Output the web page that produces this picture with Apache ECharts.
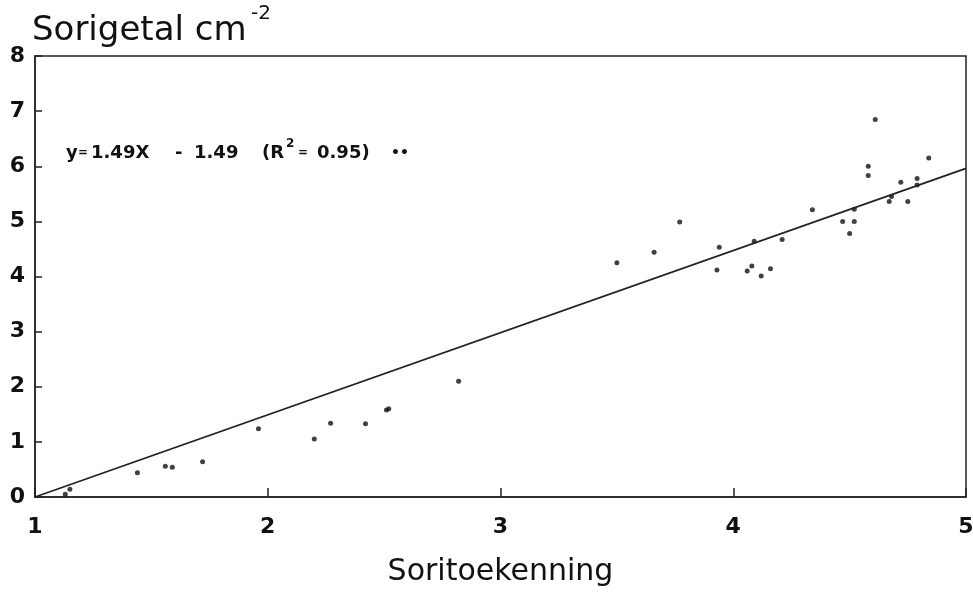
<!DOCTYPE html>
<html>
<head>
<meta charset="utf-8">
<script src="https://cdn.jsdelivr.net/npm/echarts@6/dist/echarts.min.js"></script>
<style>
  html, body { margin: 0; padding: 0; background: #fff; }
  #echarts_main { width: 973px; height: 593px; }
</style>
</head>
<body>
<div id="echarts_main"></div>
<script>
// soritoekenning (x) vs sorigetal per cm2 (y)
var scoreX = [1.13, 1.15, 1.44, 1.56, 1.59, 1.72, 1.96, 2.20, 2.27, 2.42, 2.51, 2.52, 2.82,
              3.50, 3.66, 3.77, 3.93, 3.94, 4.06, 4.08, 4.09, 4.12, 4.16, 4.21, 4.34,
              4.47, 4.50, 4.52, 4.52, 4.58, 4.58, 4.61, 4.67, 4.68, 4.72, 4.75, 4.79, 4.79, 4.84];
var countY = [0.05, 0.14, 0.44, 0.56, 0.54, 0.64, 1.24, 1.05, 1.34, 1.33, 1.58, 1.60, 2.10,
              4.25, 4.44, 4.99, 4.12, 4.53, 4.10, 4.19, 4.64, 4.01, 4.14, 4.67, 5.21,
              5.00, 4.78, 5.00, 5.22, 5.83, 6.00, 6.85, 5.36, 5.45, 5.71, 5.36, 5.78, 5.66, 6.15];

// regressielijn y = 1.49X - 1.49
var fitX = [1, 5];
var fitY = [0, 5.96];

var xTicks = [1, 2, 3, 4, 5];
var yTicks = [0, 1, 2, 3, 4, 5, 6, 7, 8];

var points = scoreX.map(function (x, i) { return [x, countY[i]]; });
var fitLine = fitX.map(function (x, i) { return [x, fitY[i]]; });

var myChart = echarts.init(document.getElementById('echarts_main'));

// stukjes van de vergelijking, los gezet zoals in de scan
function eqText(str, x, size, dy) {
    return {
        type: 'text',
        x: x,
        y: 153 + (dy || 0),
        style: {
            text: str,
            fontFamily: 'DejaVu Sans',
            fontSize: size,
            fontWeight: 'bold',
            fill: '#111',
            verticalAlign: 'middle'
        }
    };
}

var option = {
    backgroundColor: '#fff',
    animation: false,
    textStyle: { fontFamily: 'DejaVu Sans' },
    grid: {
        left: 35,
        right: 7,
        top: 56,
        bottom: 96,
        outerBoundsMode: 'none',
        containLabel: false,
        show: true,
        borderColor: '#222',
        borderWidth: 1.5,
        backgroundColor: 'transparent'
    },
    xAxis: {
        type: 'value',
        min: xTicks[0],
        max: xTicks[xTicks.length - 1],
        interval: 1,
        name: 'Soritoekenning',
        nameLocation: 'middle',
        nameGap: 60,
        nameTextStyle: { fontSize: 30, color: '#111' },
        splitLine: { show: false },
        axisLine: { lineStyle: { color: '#222', width: 1.5 } },
        axisTick: { inside: true, length: 9, lineStyle: { color: '#222', width: 1.5 } },
        axisLabel: { fontSize: 22, fontWeight: 'bold', color: '#111', margin: 19 }
    },
    yAxis: {
        type: 'value',
        min: yTicks[0],
        max: yTicks[yTicks.length - 1],
        interval: 1,
        splitLine: { show: false },
        axisLine: { lineStyle: { color: '#222', width: 1.5 } },
        axisTick: { inside: true, length: 7, lineStyle: { color: '#222', width: 1.5 } },
        axisLabel: { fontSize: 22, fontWeight: 'bold', color: '#111', margin: 10 }
    },
    graphic: [
        {
            type: 'text',
            x: 32,
            y: 14,
            style: {
                text: 'Sorigetal cm',
                fontFamily: 'DejaVu Sans',
                fontSize: 34,
                fill: '#111'
            }
        },
        {
            type: 'text',
            x: 251,
            y: 4,
            style: {
                text: '-2',
                fontFamily: 'DejaVu Sans',
                fontSize: 20,
                fill: '#111'
            }
        },
        eqText('y', 66, 18),
        eqText('=', 78, 12),
        eqText('1.49X', 91, 18),
        eqText('-', 175, 18),
        eqText('1.49', 194, 18),
        eqText('(R', 262, 18),
        eqText('2', 286, 12, -9),
        eqText('=', 298, 12),
        eqText('0.95)', 317, 18),
        eqText('••', 391, 14)
    ],
    series: [
        {
            name: 'regressie',
            type: 'line',
            data: fitLine,
            symbol: 'none',
            silent: true,
            lineStyle: { color: '#222', width: 1.8 }
        },
        {
            name: 'waarnemingen',
            type: 'scatter',
            data: points,
            symbol: 'circle',
            symbolSize: 5,
            silent: true,
            itemStyle: { color: '#111' }
        }
    ]
};

myChart.setOption(option);
</script>
</body>
</html>
